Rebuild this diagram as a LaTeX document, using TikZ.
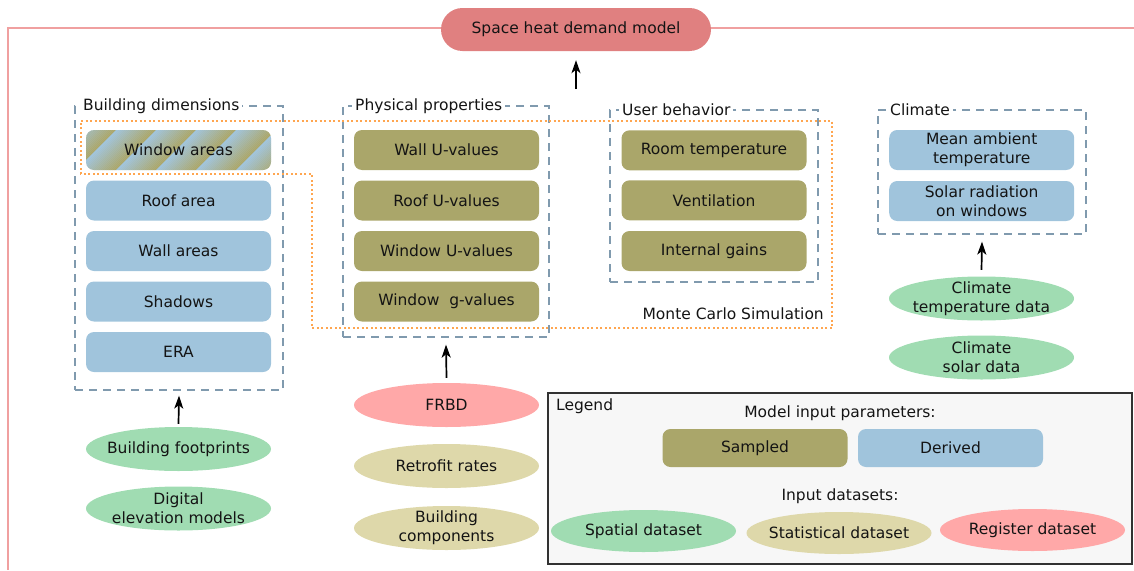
\documentclass[tikz,border=0pt]{standalone}
\usepackage{fontspec}
\setmainfont{DejaVu Sans}
\usetikzlibrary{shapes.geometric,arrows.meta}

\definecolor{sampledc}{RGB}{170,166,106}
\definecolor{derivedc}{RGB}{160,196,220}
\definecolor{spatialc}{RGB}{160,220,178}
\definecolor{statc}{RGB}{222,216,170}
\definecolor{registerc}{RGB}{255,168,168}
\definecolor{modelc}{RGB}{224,128,128}
\definecolor{grpc}{RGB}{128,154,174}
\definecolor{mcc}{RGB}{255,166,80}
\definecolor{framec}{RGB}{240,160,160}
\definecolor{legbg}{RGB}{247,247,247}
\definecolor{legdraw}{RGB}{50,50,50}
\definecolor{txtc}{RGB}{20,20,20}

\tikzset{
  pbox/.style={rounded corners=8pt, minimum width=185pt, minimum height=40pt,
    inner sep=0pt, align=center},
  sampled/.style={pbox, fill=sampledc},
  derived/.style={pbox, fill=derivedc},
  dset/.style={ellipse, minimum width=185pt, minimum height=44pt,
    inner xsep=-18pt, inner ysep=-6pt, align=center},
  spatial/.style={dset, fill=spatialc},
  statistical/.style={dset, fill=statc},
  register/.style={dset, fill=registerc},
  grp/.style={draw=grpc, line width=1.3pt, dash pattern=on 8pt off 6pt,
    inner sep=0pt},
  gtitle/.style={anchor=west, fill=white, inner sep=3pt},
  arr/.style={-{Stealth[length=13pt,width=9pt,inset=3.5pt]}, line width=1.7pt},
  mcline/.style={draw=mcc, line width=1.5pt, dash pattern=on 2pt off 2.5pt},
  frameline/.style={draw=framec, line width=1.2pt},
}

\begin{document}
\begin{tikzpicture}[x=1pt, y=-1pt, font=\fontsize{15.5}{19}\selectfont, text=txtc]
\useasboundingbox (0,0) rectangle (1134,570);

% outer frame of the model
\coordinate (fbl) at (8,570);
\coordinate (ftl) at (8,28);
\coordinate (ftr) at (1134,28);
\draw[frameline] (fbl) -- (ftl) -- (ftr);

\node[rounded corners=21.5pt, minimum width=270pt, minimum height=43pt, inner sep=0pt,
  fill=modelc] (hdm) at (576,29.5) {Space heat demand model};

% parameter groups
\node[grp, minimum width=208pt, minimum height=284pt] (bd) at (179,248) {};
\node[grp, minimum width=206pt, minimum height=231pt] (ph) at (446,221.5) {};
\node[grp, minimum width=208pt, minimum height=172pt] (ub) at (714,196) {};
\node[grp, minimum width=208pt, minimum height=124pt] (cl) at (982,172) {};

\node[gtitle] (bdt) at (80,106) {Building dimensions};
\node[gtitle] (pht) at (352,106) {Physical properties};
\node[gtitle] (ubt) at (619,110) {User behavior};
\node[gtitle] (clt) at (887,110) {Climate};

% Monte Carlo region
\coordinate (m1) at (81,121);
\coordinate (m2) at (832,121);
\coordinate (m3) at (832,328);
\coordinate (m4) at (312,328);
\coordinate (m5) at (312,174);
\coordinate (m6) at (81,174);
\draw[mcline] (m1) -- (m2) -- (m3) -- (m4) -- (m5) -- (m6) -- cycle;
\node[anchor=east, inner sep=0pt] (mct) at (824,314) {Monte Carlo Simulation};

% window areas: both sampled and derived (striped fill)
\begin{scope}
  \clip[rounded corners=8pt] (86,130) rectangle (271,170);
  \foreach \a in {36,76,...,276}{
    \foreach \j in {0,...,19}{
      \pgfmathsetmacro\xl{\a+2*\j}
      \pgfmathsetmacro\xr{\a+2*\j+2.4}
      \pgfmathtruncatemacro\pc{100-100*\j/19}
      \fill[derivedc!\pc!sampledc] (\xl,130) -- (\xr,130) -- (\xr-40,170) -- (\xl-40,170) -- cycle;
    }
  }
\end{scope}
\node[pbox] (wa) at (178.5,150) {Window areas};

% building dimensions
\node[derived] (ra) at (178.5,200.5) {Roof area};
\node[derived] (wl) at (178.5,251) {Wall areas};
\node[derived] (sh) at (178.5,301.5) {Shadows};
\node[derived] (era) at (178.5,352) {ERA};

% physical properties
\node[sampled] (wu) at (446.5,150) {Wall U-values};
\node[sampled] (ru) at (446.5,200.5) {Roof U-values};
\node[sampled] (wiu) at (446.5,251) {Window U-values};
\node[sampled] (wg) at (446.5,301.5) {Window~~g-values};

% user behavior
\node[sampled] (rt) at (714,150.3) {Room temperature};
\node[sampled] (ve) at (714,200.3) {Ventilation};
\node[sampled] (ig) at (714,251) {Internal gains};

% climate
\node[derived] (mat) at (981.7,150) {Mean ambient\\temperature};
\node[derived] (srw) at (981.7,201) {Solar radiation\\on windows};

% input datasets
\node[spatial] (fp) at (178.5,449) {Building footprints};
\node[spatial] (dem) at (178.5,508.5) {Digital\\elevation models};
\node[register] (frbd) at (446.5,405) {FRBD};
\node[statistical] (rr) at (446.5,466) {Retrofit rates};
\node[statistical] (bc) at (446.5,528) {Building\\components};
\node[spatial] (ctd) at (981.5,298.5) {Climate\\temperature data};
\node[spatial] (csd) at (981.5,357.5) {Climate\\solar data};

% data flow
\coordinate (hdtail) at ([yshift=-38pt]hdm.south);
\draw[arr] (hdtail) -- ([yshift=-9pt]hdm.south);
\draw[arr] ([yshift=3pt]fp.north) -- ([yshift=-5pt]bd.south);
\draw[arr] ([yshift=5pt]frbd.north) -- ([yshift=-7pt]ph.south);
\draw[arr] ([yshift=6.5pt]ctd.north) -- ([yshift=-7pt]cl.south);

% legend
\node[draw=legdraw, fill=legbg, line width=1.5pt, minimum width=584pt,
  minimum height=171pt, inner sep=0pt] (leg) at (840,478.5) {};
\node[anchor=west, inner sep=0pt] (legt) at (556,406) {Legend};
\node[inner sep=0pt] (mip) at (840,413) {Model input parameters:};
\node[sampled, minimum height=38pt] (ls) at (755,448) {Sampled};
\node[derived, minimum height=38pt] (ld) at (950.5,448) {Derived};
\node[inner sep=0pt] (ids) at (840,496) {Input datasets:};
\node[spatial, minimum height=42pt] (lsp) at (643.5,531) {Spatial dataset};
\node[statistical, minimum height=42pt] (lst) at (839,533) {Statistical dataset};
\node[register, minimum height=42pt] (lrg) at (1032.5,530) {Register dataset};
\end{tikzpicture}
\end{document}
